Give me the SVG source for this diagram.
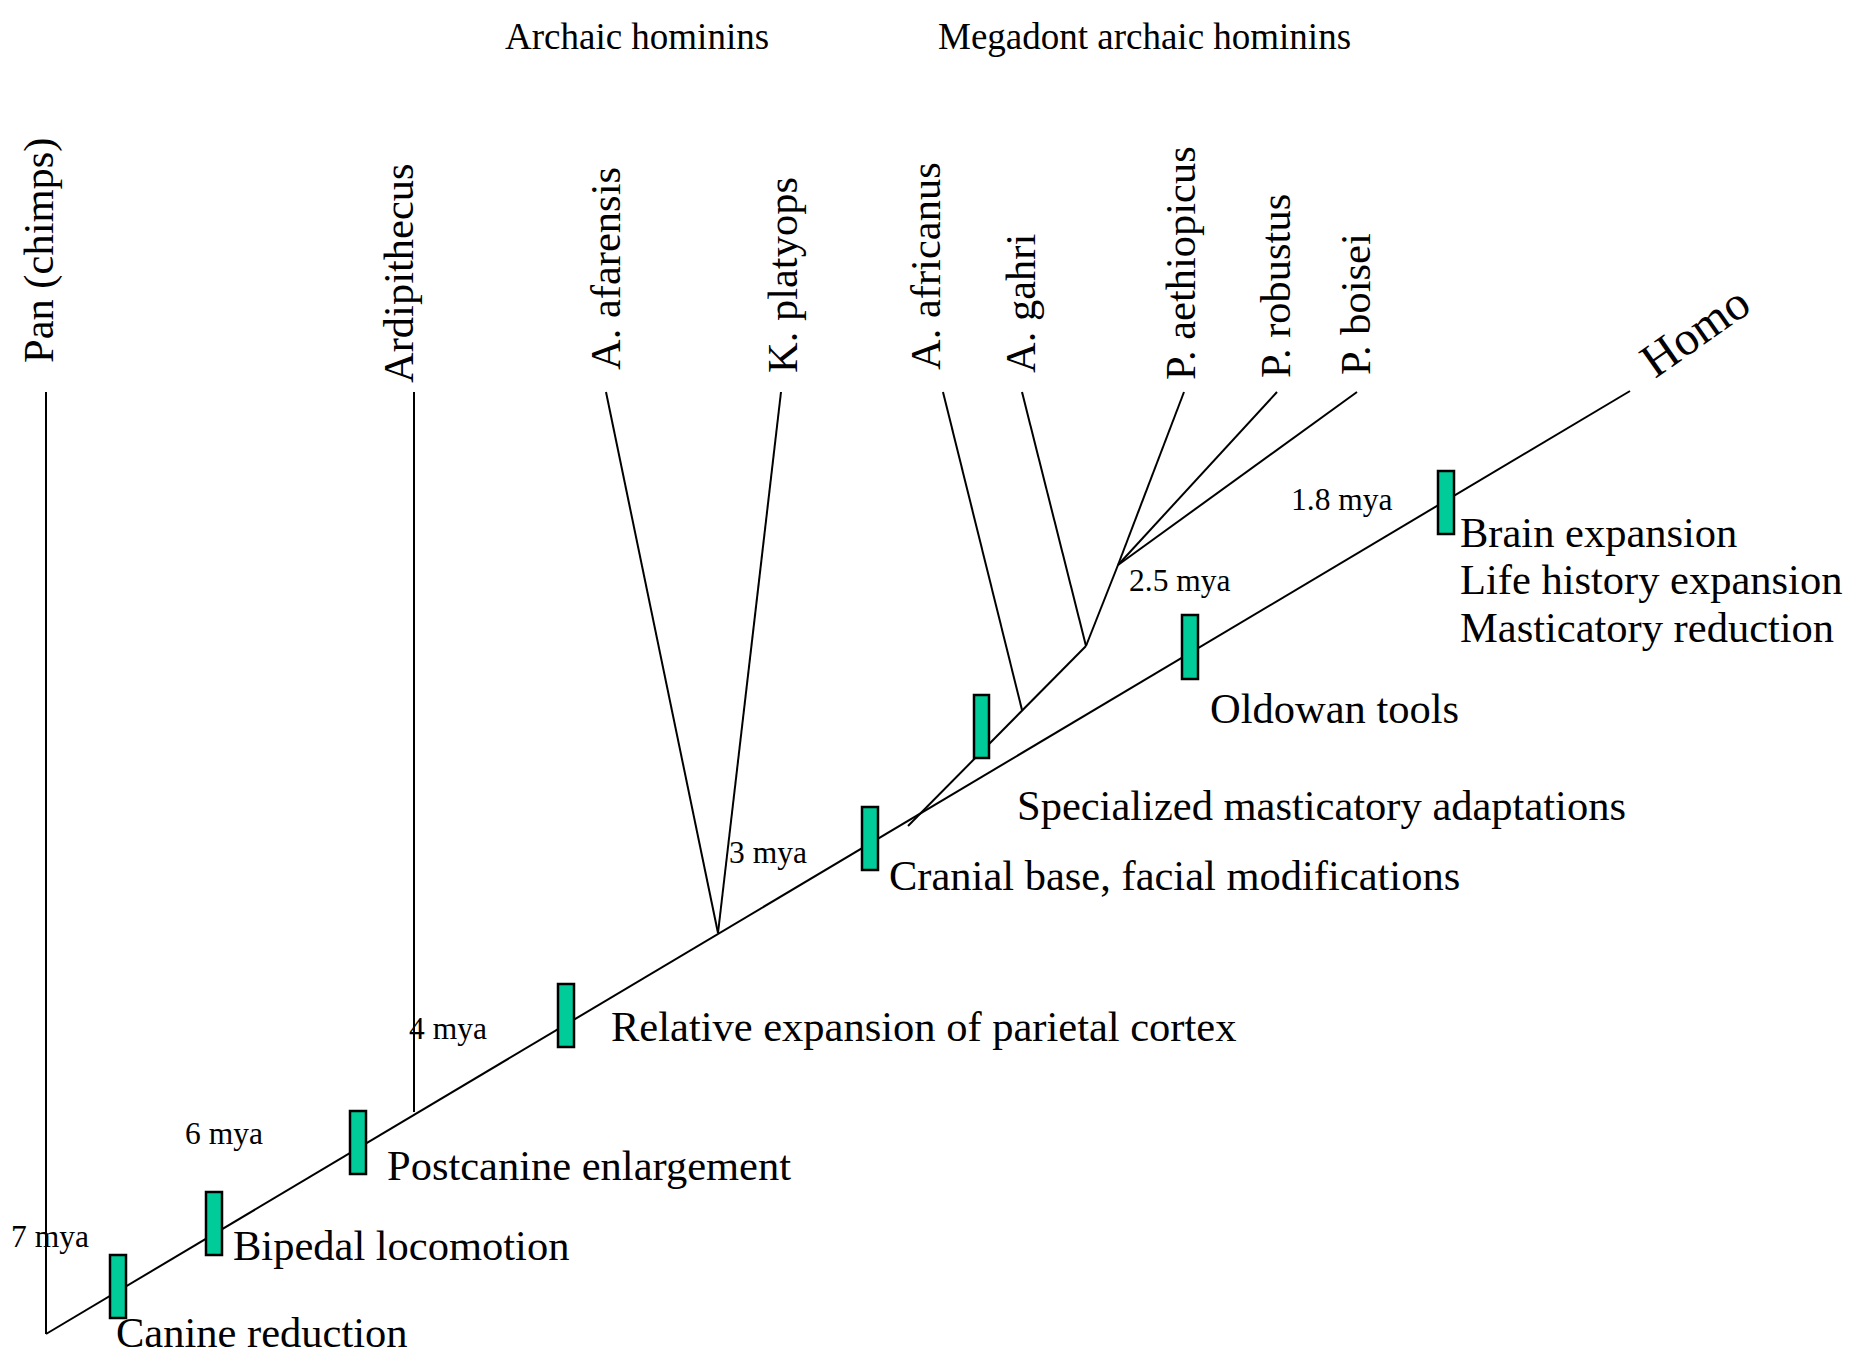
<svg xmlns="http://www.w3.org/2000/svg" width="1864" height="1354" viewBox="0 0 1864 1354">
<style>
.ln{stroke:#000;stroke-width:2;fill:none}
.bx{fill:#00CC99;stroke:#000;stroke-width:2.5}
.lb{font-family:"Liberation Serif","Times New Roman",serif;font-size:42.5px;fill:#000}
.my{font-family:"Liberation Serif","Times New Roman",serif;font-size:31.5px;fill:#000}
.hd{font-family:"Liberation Serif","Times New Roman",serif;font-size:37px;fill:#000}
</style>
<rect width="1864" height="1354" fill="#fff"/>
<g id="connectors">
<line class="ln" x1="46" y1="1334" x2="1630" y2="391"/>
<line class="ln" x1="46" y1="392" x2="46" y2="1334"/>
<line class="ln" x1="414" y1="392" x2="414" y2="1112"/>
<line class="ln" x1="606" y1="392" x2="718" y2="933"/>
<line class="ln" x1="781" y1="392" x2="718" y2="933"/>
<line class="ln" x1="908" y1="826" x2="1086" y2="646"/>
<line class="ln" x1="943" y1="392" x2="1022" y2="710"/>
<line class="ln" x1="1022" y1="392" x2="1086" y2="646"/>
<line class="ln" x1="1086" y1="646" x2="1118" y2="565"/>
<line class="ln" x1="1184" y1="392" x2="1118" y2="565"/>
<line class="ln" x1="1277" y1="392" x2="1118" y2="565"/>
<line class="ln" x1="1357" y1="392" x2="1118" y2="565"/>
</g>
<g id="headers">
<text class="hd" x="505" y="49">Archaic hominins</text>
<text class="hd" x="938" y="49">Megadont archaic hominins</text>
</g>
<g id="taxa">
<g id="pan"><text class="lb" transform="translate(53,363) rotate(-90)">Pan (chimps)</text></g>
<g id="ardipithecus"><text class="lb" transform="translate(413,383) rotate(-90)">Ardipithecus</text></g>
<g id="afarensis"><text class="lb" transform="translate(620,370) rotate(-90)">A. afarensis</text></g>
<g id="platyops"><text class="lb" transform="translate(797,373) rotate(-90)">K. platyops</text></g>
<g id="africanus"><text class="lb" transform="translate(940,370) rotate(-90)">A. africanus</text></g>
<g id="gahri"><text class="lb" transform="translate(1035,373) rotate(-90)">A. gahri</text></g>
<g id="aethiopicus"><text class="lb" transform="translate(1195,380) rotate(-90)">P. aethiopicus</text></g>
<g id="robustus"><text class="lb" transform="translate(1290,378) rotate(-90)">P. robustus</text></g>
<g id="boisei"><text class="lb" transform="translate(1370,375) rotate(-90)">P. boisei</text></g>
<g id="homo"><text class="lb" style="font-size:48px" transform="translate(1655,379) rotate(-35)">Homo</text></g>
</g>
<g id="dates">
<text class="my" x="11" y="1247">7 mya</text>
<text class="my" x="185" y="1144">6 mya</text>
<text class="my" x="409" y="1039">4 mya</text>
<text class="my" x="729" y="863">3 mya</text>
<text class="my" x="1129" y="591">2.5 mya</text>
<text class="my" x="1291" y="510">1.8 mya</text>
</g>
<g id="traits">
<g id="canine"><rect class="bx" x="110" y="1255" width="16" height="63"/><text class="lb" x="116" y="1347">Canine reduction</text></g>
<g id="bipedal"><rect class="bx" x="206" y="1192" width="16" height="63"/><text class="lb" x="233" y="1260">Bipedal locomotion</text></g>
<g id="postcanine"><rect class="bx" x="350" y="1111" width="16" height="63"/><text class="lb" x="387" y="1180">Postcanine enlargement</text></g>
<g id="parietal"><rect class="bx" x="558" y="984" width="16" height="63"/><text class="lb" x="611" y="1041">Relative expansion of parietal cortex</text></g>
<g id="cranial"><rect class="bx" x="862" y="807" width="16" height="63"/><text class="lb" x="889" y="890">Cranial base, facial modifications</text></g>
<g id="specialized"><rect class="bx" x="974" y="695" width="15" height="63"/><text class="lb" x="1017" y="820">Specialized masticatory adaptations</text></g>
<g id="oldowan"><rect class="bx" x="1182" y="615" width="16" height="64"/><text class="lb" x="1210" y="723">Oldowan tools</text></g>
<g id="brain"><rect class="bx" x="1438" y="471" width="16" height="63"/><text class="lb" x="1460" y="547">Brain expansion</text><text class="lb" x="1460" y="594">Life history expansion</text><text class="lb" x="1460" y="642">Masticatory reduction</text></g>
</g>
</svg>
